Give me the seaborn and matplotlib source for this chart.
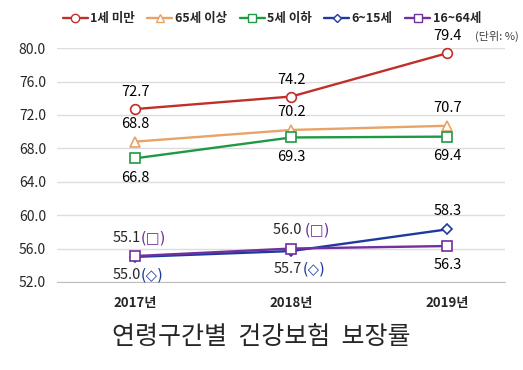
import seaborn as sns
import pandas as pd
import matplotlib.pyplot as plt
from matplotlib.lines import Line2D

years = ['2017년', '2018년', '2019년']
groups = ['1세 미만', '65세 이상', '5세 이하', '6~15세', '16~64세']
under1 = [72.7, 74.2, 79.4]
over65 = [68.8, 70.2, 70.7]
under5 = [66.8, 69.3, 69.4]
age6_15 = [55.0, 55.7, 58.3]
age16_64 = [55.1, 56.0, 56.3]

colors = ['#C0302B', '#E8A366', '#1E9A45', '#1F3A9E', '#7030A0']
markers = ['o', '^', 's', 'D', 's']

sns.set_style('white')
plt.rcParams['font.family'] = ['Noto Sans CJK KR', 'DejaVu Sans']

rows = []
for g, vals in zip(groups, [under1, over65, under5, age6_15, age16_64]):
    for i, v in enumerate(vals):
        rows.append({'group': g, 'x': i, 'value': v})
df = pd.DataFrame(rows)

fig = plt.figure(figsize=(5.23, 3.70), dpi=100)
ax = fig.add_axes([0.109, 0.238, 0.857, 0.632])

for g, c, m in zip(groups, colors, markers):
    d = df[df['group'] == g]
    ms = 5.5 if m == 'D' else 7
    sns.lineplot(data=d, x='x', y='value', ax=ax, color=c, linewidth=1.7,
                 marker=m, markersize=ms, markerfacecolor='white',
                 markeredgecolor=c, markeredgewidth=1.2, clip_on=False)

ax.set_xlim(-0.5, 2.37)
ax.set_ylim(52, 80)
ax.set_yticks([52, 56, 60, 64, 68, 72, 76, 80])
ax.set_yticklabels(['%.1f' % t for t in ax.get_yticks()], fontsize=10)
ax.set_xticks([0, 1, 2])
ax.set_xticklabels(years, fontsize=9.5, fontweight='bold')
ax.set_xticks([0.5, 1.5], minor=True)
ax.tick_params(axis='x', which='major', length=0, pad=10)
ax.tick_params(axis='x', which='minor', length=6, color='#BFBFBF', direction='out')
ax.tick_params(axis='y', length=0, pad=8)
ax.set_xlabel('')
ax.set_ylabel('')
ax.yaxis.grid(True, color='#DDDDDD', linewidth=1)
ax.set_axisbelow(True)
for s in ['left', 'right', 'top']:
    ax.spines[s].set_visible(False)
ax.spines['bottom'].set_color('#BFBFBF')

fs = 10.5
def lab(x, y, txt, dy, color='black'):
    ax.annotate(txt, (x, y), xytext=(0, dy), textcoords='offset points',
                ha='center', va='center', fontsize=fs, color=color)

def lab2(x, y, txt, sym, color, dx, dy):
    ax.annotate(txt, (x, y), xytext=(dx, dy), textcoords='offset points',
                ha='right', va='center', fontsize=fs)
    ax.annotate(sym, (x, y), xytext=(dx, dy), textcoords='offset points',
                ha='left', va='center', fontsize=fs, color=color,
                family=['DejaVu Sans'])

for i, v in enumerate(under1):
    lab(i, v, '%.1f' % v, 12)
ax.annotate('(단위: %)', (2, 79.4), xytext=(20, 12), textcoords='offset points',
            ha='left', va='center', fontsize=8, color='#404040')
for i, v in enumerate(over65):
    lab(i, v, '%.1f' % v, 13)
for i, v in enumerate(under5):
    lab(i, v, '%.1f' % v, -14)

# 6~15 labels
lab2(0, age6_15[0], '%.1f' % age6_15[0], '(◇)', colors[3], 4, -13)
lab2(1, age6_15[1], '%.1f' % age6_15[1], '(◇)', colors[3], 8, -13)
lab(2, age6_15[2], '%.1f' % age6_15[2], 13)
# 16~64 labels
lab2(0, age16_64[0], '%.1f' % age16_64[0], '(□)', colors[4], 4, 13)
lab2(1, age16_64[1], '%.1f ' % age16_64[1], '(□)', colors[4], 10, 13)
lab(2, age16_64[2], '%.1f' % age16_64[2], -14)

handles = [Line2D([], [], color=c, marker=m, markersize=6 if m != 'D' else 4.5,
                  markerfacecolor='white', markeredgecolor=c, linewidth=1.7)
           for c, m in zip(colors, markers)]
fig.legend(handles, groups, loc='center', bbox_to_anchor=(0.52, 0.95), ncol=5,
           frameon=False, handlelength=2, handletextpad=0.2, columnspacing=1.0,
           prop={'size': 9, 'weight': 'bold'})

fig.text(0.5, 0.09, '연령구간별  건강보험  보장률', ha='center', va='center', fontsize=18)

plt.savefig('out.png', dpi=100)
